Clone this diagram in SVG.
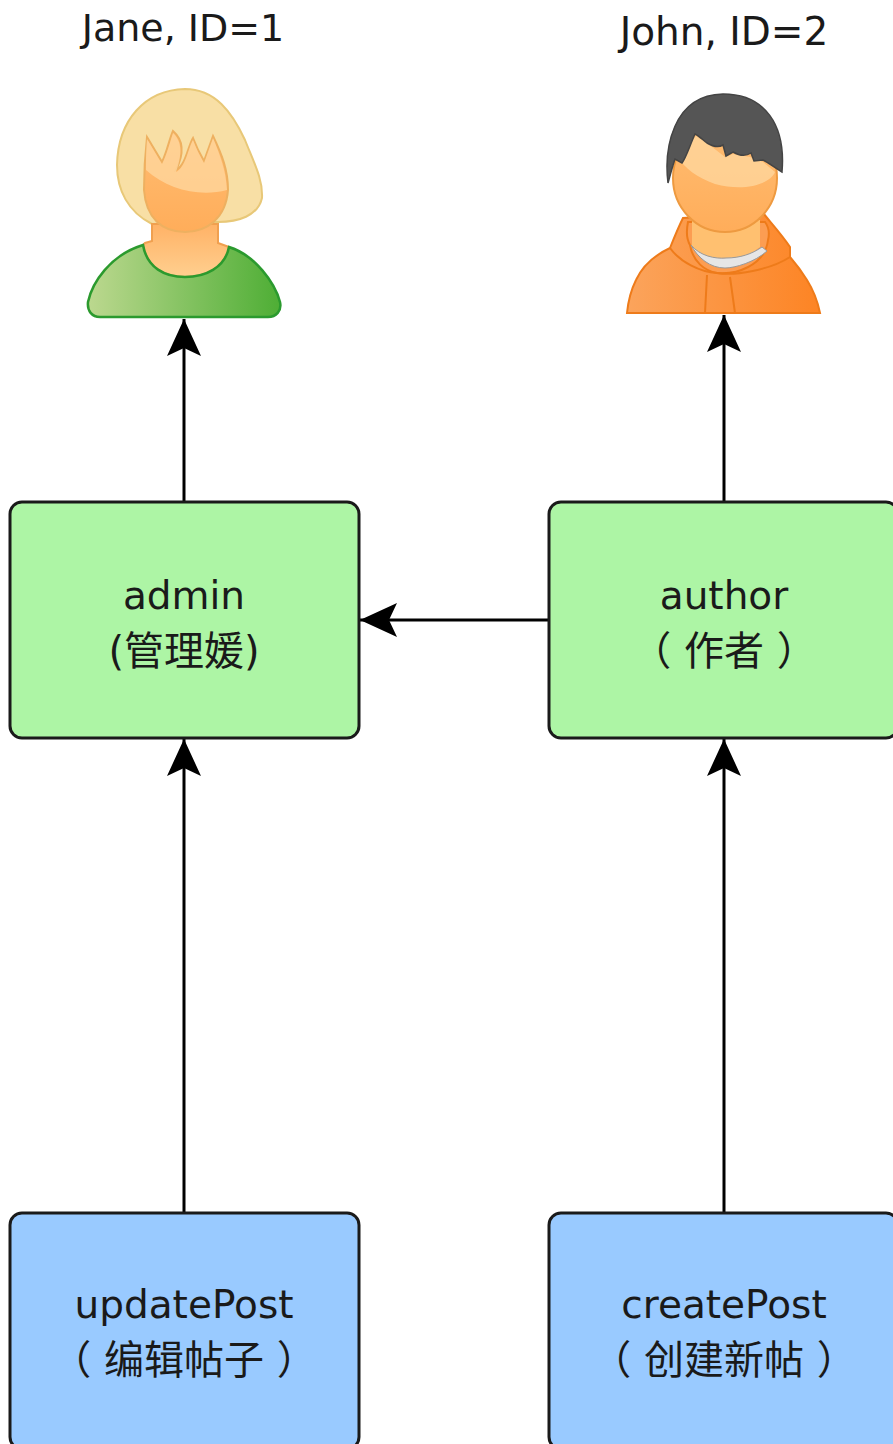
<svg xmlns="http://www.w3.org/2000/svg" width="893" height="1444" viewBox="0 0 893 1444">
<style>
text{font-family:"DejaVu Sans","Noto Sans CJK SC",sans-serif;font-size:39px;fill:#1a1a1a;text-anchor:middle}
text.z{font-size:40px}
text.n{font-size:38px}
.box{stroke:#1a1a1a;stroke-width:3}
.g{fill:#adf5a5}.b{fill:#99caff}
.c{fill:none;stroke:#000;stroke-width:3;marker-end:url(#a)}
</style>
<defs>
<marker id="a" markerUnits="userSpaceOnUse" markerWidth="40" markerHeight="36" refX="37" refY="17" orient="auto"><path d="M37 17L0 0L8 17L0 34Z" fill="#000"/></marker>
<linearGradient id="shirt"><stop offset="0" stop-color="#bcd88f"/><stop offset="1" stop-color="#4eae35"/></linearGradient>
<linearGradient id="hood"><stop offset="0" stop-color="#fba45c"/><stop offset="1" stop-color="#fd8424"/></linearGradient>
<linearGradient id="face" x1="0" y1="0" x2="0" y2="1"><stop offset="0" stop-color="#ffbd72"/><stop offset="1" stop-color="#ffad5a"/></linearGradient>
<linearGradient id="neck" x1="0" y1="0" x2="0" y2="1"><stop offset="0" stop-color="#ffb266"/><stop offset="1" stop-color="#ffcf8f"/></linearGradient>
</defs>
<g id="connectors">
<path class="c" d="M184 501V319"/>
<path class="c" d="M724 501V315"/>
<path class="c" d="M549 620H360"/>
<path class="c" d="M184 1212V739"/>
<path class="c" d="M724 1212V739"/>
</g>
<g id="jane">
<text class="n" x="183" y="41">Jane, ID=1</text>
<path d="M152 224C128 212 117 190 117 165C118 120 145 90 185 89C215 89 232 112 245 140C255 165 263 180 262 198C258 216 238 222 218 222Z" fill="#f8dfa5" stroke="#e8c878" stroke-width="2"/>
<path d="M152 224V241L145 243L143 245C147 268 165 277 185 277C205 277 225 268 229 247L218 243V224Z" fill="url(#neck)" stroke="#f0a050" stroke-width="2"/>
<path d="M143 245C110 255 92 283 88 302C87 311 92 317 100 317H268C276 317 282 311 280 302C275 283 255 255 229 247C225 268 205 277 185 277C165 277 147 268 143 245Z" fill="url(#shirt)" stroke="#2b9a2e" stroke-width="2.5"/>
<path d="M147 137L162 162C167 152 169 140 173 131C181 138 186 150 176 170C186 165 188 146 193 138C196 146 200 154 204 161L213 136C222 155 228 170 228 190C226 218 207 232 185 232C162 232 146 218 144 190C144 170 145 155 147 137Z" fill="url(#face)" stroke="#eeb060" stroke-width="2"/>
<path d="M147 139L162 164C167 154 170 142 173 133C180 140 184 150 176 172C186 167 188 148 193 140C196 148 200 156 204 163L213 138C220 155 226 170 227 190C200 197 168 190 146 170C146 157 146 152 147 139Z" fill="#ffd8a0" opacity=".75"/>
</g>
<g id="john">
<text x="724" y="45">John, ID=2</text>
<path d="M683 218C678 228 674 238 670 248C655 255 643 265 636 280C630 292 628 303 627 313H820C817 298 812 288 807 280C802 272 796 264 790 257L790 247C782 235 772 224 763 213Z" fill="url(#hood)" stroke="#ee7b1a" stroke-width="2"/>
<path d="M688 222C686 232 687 240 690 245C693 262 705 271 717 273C735 275 765 266 768 240C770 232 768 226 765 222Z" fill="#fc9d52" stroke="#ee7b1a" stroke-width="2"/>
<path d="M692 220V247L705 258H745L760 247V220Z" fill="#ffc070"/>
<path d="M691 245C700 256 715 259 726 258C740 258 752 254 762 247L767 251C755 262 735 268 725 268C710 268 698 258 691 245Z" fill="#e6e6e6" stroke="#999" stroke-width="1"/>
<path d="M670 248C680 262 700 272 717 273C735 276 770 270 790 257M707 275L705 313M730 277L735 313" fill="none" stroke="#ee7b1a" stroke-width="2"/>
<ellipse cx="725" cy="178" rx="52" ry="54" fill="url(#face)" stroke="#ee9a40" stroke-width="2"/>
<path d="M696 136L707 143L725 157L733 154L750 157L763 162L775 172C770 184 745 192 715 184C698 178 684 168 678 157Z" fill="#ffd8a0" opacity=".75"/>
<path d="M668 183C664 150 672 95 723 94C765 94 786 125 782 172C775 168 769 163 763 160L754 161L751 153C745 157 738 155 733 152L726 156L723 145C718 148 712 146 707 143C703 140 699 136 695 134C690 145 686 158 682 163L675 159C672 168 670 176 668 183Z" fill="#555" stroke="#444" stroke-width="1.5"/>
</g>
<g id="admin">
<rect class="box g" x="10" y="502" width="349" height="236" rx="12"/>
<text x="184" y="609">admin</text>
<text class="z" x="184" y="665">(管理媛)</text>
</g>
<g id="author">
<rect class="box g" x="549" y="502" width="349" height="236" rx="12"/>
<text x="724" y="609">author</text>
<text class="z" x="724" y="665">（ 作者 ）</text>
</g>
<g id="updatePost">
<rect class="box b" x="10" y="1213" width="349" height="236" rx="12"/>
<text x="184" y="1318">updatePost</text>
<text class="z" x="184" y="1374">（ 编辑帖子 ）</text>
</g>
<g id="createPost">
<rect class="box b" x="549" y="1213" width="349" height="236" rx="12"/>
<text x="724" y="1318">createPost</text>
<text class="z" x="724" y="1374">（ 创建新帖 ）</text>
</g>
</svg>
